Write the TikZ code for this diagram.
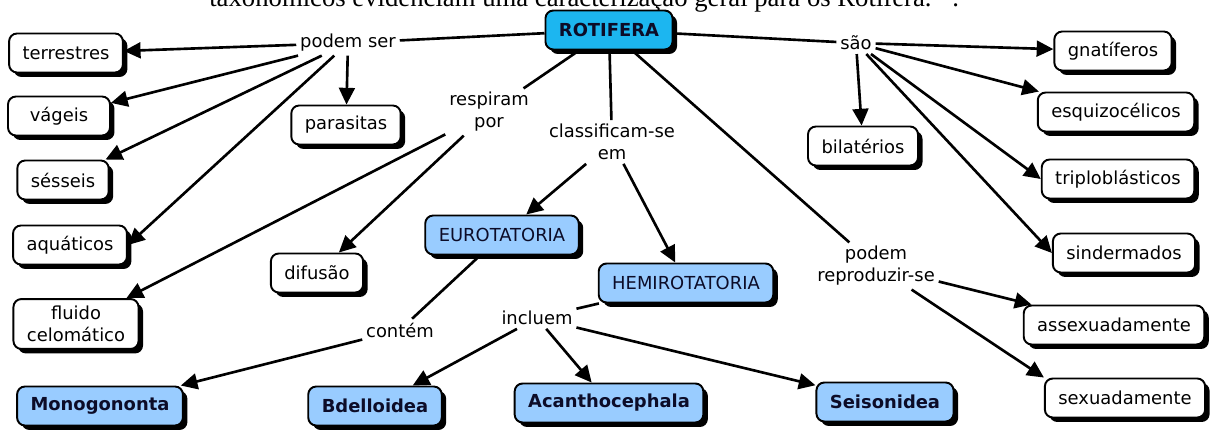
\documentclass[tikz,border=0pt]{standalone}
\usepackage{fontspec}
\setmainfont{DejaVu Sans}
\newfontfamily\capfont{Liberation Serif}
\usetikzlibrary{arrows.meta,shadows}
\definecolor{rotblue}{RGB}{28,182,240}
\definecolor{taxblue}{RGB}{153,204,255}
\definecolor{inknavy}{RGB}{12,12,40}
\begin{document}
\begin{tikzpicture}[x=0.02cm, y=-0.02cm, ->, >={Triangle[length=9.5pt,width=9pt]}, line width=1.5pt]
    \tikzstyle{concept}=[rectangle, rounded corners=4.5pt, draw, line width=1.1pt, fill=white,
        drop shadow={shadow xshift=0.09cm, shadow yshift=-0.09cm, fill=black, opacity=1},
        minimum height=0.78cm, inner xsep=0.27cm, inner ysep=4pt, align=center,
        font=\fontsize{10.2}{12.5}\selectfont]
    \tikzstyle{taxon}=[concept, fill=taxblue, text=inknavy]
    \tikzstyle{group}=[taxon, font=\fontsize{10.2}{12.5}\selectfont\bfseries]
    \tikzstyle{link}=[inner sep=1.5pt, align=center, font=\fontsize{10.2}{12.5}\selectfont]

    \useasboundingbox (0,0) rectangle (1214,432);
    \clip (0,0) rectangle (1214,432);
    \node[anchor=base west, inner sep=0pt, font=\capfont\fontsize{15.2}{18}\selectfont] (cap) at (208, 7)
        {taxonômicos evidenciam uma caracterização geral para os Rotifera.” .};

    % concepts
    \node[group, fill=rotblue] (rot) at (609, 30) {ROTIFERA};
    \node[concept] (terr) at (66, 53) {terrestres};
    \node[concept, minimum width=2.04cm] (vag) at (59, 116) {vágeis};
    \node[concept] (ses) at (63, 180) {sésseis};
    \node[concept] (aqu) at (70, 245) {aquáticos};
    \node[concept] (flu) at (76, 324) {fluido\\celomático};
    \node[concept] (para) at (346, 125) {parasitas};
    \node[concept] (dif) at (317, 273) {difusão};
    \node[taxon] (euro) at (502, 235) {EUROTATORIA};
    \node[taxon] (hemi) at (686, 283) {HEMIROTATORIA};
    \node[group] (mono) at (100, 406) {Monogononta};
    \node[group] (bdel) at (375, 406) {Bdelloidea};
    \node[group] (acan) at (609, 403) {Acanthocephala};
    \node[group] (seis) at (885, 402) {Seisonidea};
    \node[concept] (bil) at (863, 146) {bilatérios};
    \node[concept] (gna) at (1113, 51) {gnatíferos};
    \node[concept] (esq) at (1116, 112) {esquizocélicos};
    \node[concept] (tri) at (1118, 179) {triploblásticos};
    \node[concept] (sin) at (1124, 253) {sindermados};
    \node[concept] (ass) at (1114, 325) {assexuadamente};
    \node[concept] (sex) at (1125, 398) {sexuadamente};

    % linking phrases
    \node[link] (ps) at (348, 43) {podem ser};
    \node[link] (resp) at (489, 112) {respiram\\por};
    \node[link] (clas) at (612, 142) {classificam-se\\em};
    \node[link] (sao) at (856, 43) {são};
    \node[link] (rep) at (876, 266) {podem\\reproduzir-se};
    \node[link] (cont) at (400, 330) {contém};
    \node[link] (incl) at (537, 318) {incluem};

    \path (rot) edge[-] (ps);
    \path (ps) edge (terr);
    \path (ps) edge (vag);
    \path (ps) edge (ses);
    \path (ps) edge (aqu.east);
    \path (ps) edge (para);
    \path (rot) edge[-] (resp);
    \path (resp) edge (flu);
    \path (resp) edge (dif);
    \path (rot) edge[-] (clas);
    \path (clas) edge (euro);
    \path (clas) edge (hemi);
    \path (rot) edge[-] (sao);
    \path (sao) edge (gna);
    \path (sao) edge (esq);
    \path (sao) edge (tri.west);
    \path (sao) edge (sin.west);
    \path (sao) edge (bil);
    \path (rot) edge[-] (rep);
    \path (rep) edge (ass);
    \path (rep) edge (sex.north west);
    \path (euro) edge[-] (cont);
    \path (cont) edge (mono);
    \path (hemi) edge[-] (incl);
    \path (incl) edge (bdel);
    \path (incl) edge (acan);
    \path (incl) edge (seis);
\end{tikzpicture}
\end{document}
